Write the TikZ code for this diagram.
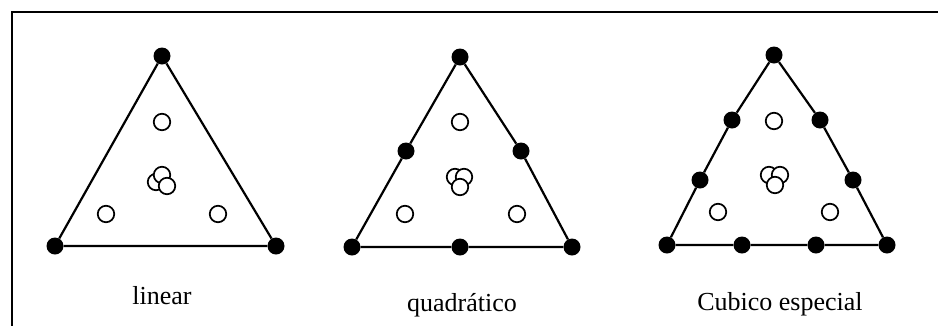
\documentclass[tikz,border=0pt]{standalone}
\usepackage{fontspec}
\setmainfont{Liberation Serif}
\begin{document}
\begin{tikzpicture}[x=1pt,y=-1pt,
  vtx/.style={circle,fill=black,inner sep=0pt,minimum size=17pt},
  run/.style={circle,draw=black,line width=1.7pt,fill=white,inner sep=0pt,minimum size=16.5pt},
  side/.style={line width=2.2pt},
  lab/.style={font=\fontsize{26}{30}\selectfont,anchor=base,inner sep=0pt}]
  \clip (0,0) rectangle (938,325);

  % frame (cut off at right and bottom)
  \draw[line width=2.4pt] (12,340) -- (12,12) -- (950,12);

  % linear
  \node[vtx] (la) at (162,56) {};
  \node[vtx] (lb) at (55,246) {};
  \node[vtx] (lc) at (276,246) {};
  \draw[side] (la) -- (lb) -- (lc) -- (la);
  \foreach \x/\y [count=\i] in {162/122, 106/214, 218/214, 156/182, 162/175, 167/186}
    \node[run] (lr\i) at (\x,\y) {};
  \node[lab] (ltxt) at (162,304) {linear};

  % quadratico
  \node[vtx] (qa) at (460,57) {};
  \node[vtx] (qb) at (352,247) {};
  \node[vtx] (qc) at (572,247) {};
  \node[vtx] (qab) at (406,151) {};
  \node[vtx] (qac) at (521,151) {};
  \node[vtx] (qbc) at (460,247) {};
  \draw[side] (qa) -- (qab) -- (qb) -- (qbc) -- (qc) -- (qac) -- (qa);
  \foreach \x/\y [count=\i] in {460/122, 405/214, 517/214, 455/177, 464/177, 460/187}
    \node[run] (qr\i) at (\x,\y) {};
  \node[lab] (qtxt) at (462,311) {quadrático};

  % cubico especial
  \node[vtx] (ca) at (774,55) {};
  \node[vtx] (cb) at (667,245) {};
  \node[vtx] (cc) at (887,245) {};
  \node[vtx] (cab1) at (732,120) {};
  \node[vtx] (cab2) at (700,180) {};
  \node[vtx] (cac1) at (820,120) {};
  \node[vtx] (cac2) at (853,180) {};
  \node[vtx] (cbc1) at (742,245) {};
  \node[vtx] (cbc2) at (816,245) {};
  \draw[side] (ca) -- (cab1) -- (cab2) -- (cb) -- (cbc1) -- (cbc2) -- (cc) -- (cac2) -- (cac1) -- (ca);
  \foreach \x/\y [count=\i] in {774/121, 718/212, 830/212, 769/175, 780/175, 775/185}
    \node[run] (cr\i) at (\x,\y) {};
  \node[lab] (ctxt) at (780,310) {Cubico especial};
\end{tikzpicture}
\end{document}
